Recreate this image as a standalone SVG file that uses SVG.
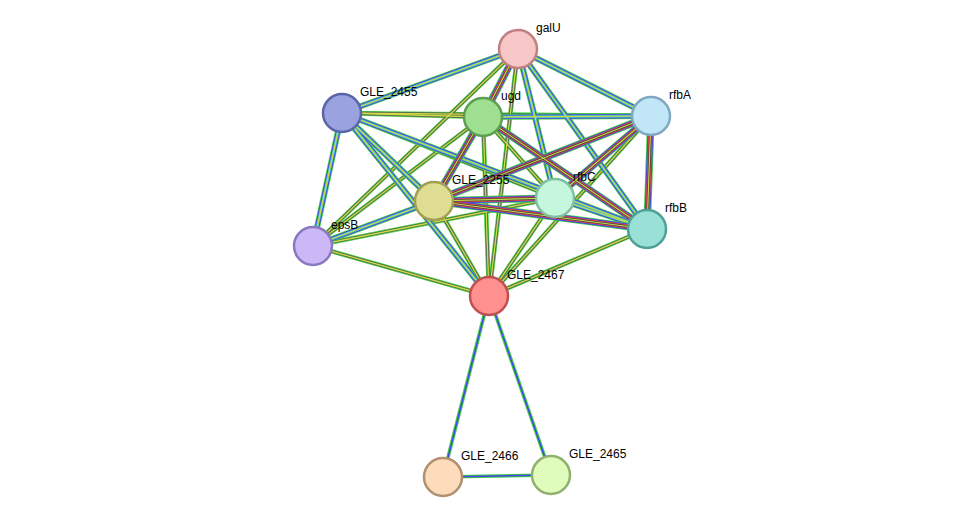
<svg xmlns="http://www.w3.org/2000/svg" xmlns:xlink="http://www.w3.org/1999/xlink" width="976" height="523" viewBox="0 0 976 523">
<style>
text{font-family:"Liberation Sans",Arial,sans-serif;font-size:12px;fill:#000}
circle{stroke-width:2.5}
use{fill:none}
</style>
<defs>
<g id="EA">
<line x1="518" y1="49" x2="483" y2="117"/>
<line x1="483" y1="117" x2="434" y2="201"/>
<line x1="434" y1="201" x2="647" y2="229"/>
<line x1="483" y1="117" x2="647" y2="229"/>
<line x1="651" y1="116" x2="434" y2="201"/>
<line x1="434" y1="201" x2="555" y2="198"/>
<line x1="651" y1="116" x2="647" y2="229"/>
<line x1="651" y1="116" x2="555" y2="198"/>
</g>
<g id="EB">
<line x1="518" y1="49" x2="651" y2="116"/>
<line x1="518" y1="49" x2="647" y2="229"/>
<line x1="518" y1="49" x2="342" y2="113"/>
<line x1="342" y1="113" x2="313" y2="246"/>
<line x1="342" y1="113" x2="434" y2="201"/>
<line x1="342" y1="113" x2="647" y2="229"/>
<line x1="313" y1="246" x2="434" y2="201"/>
<line x1="342" y1="113" x2="489" y2="296"/>
<line x1="483" y1="117" x2="651" y2="116"/>
<line x1="518" y1="49" x2="555" y2="198"/>
<line x1="555" y1="198" x2="647" y2="229"/>
</g>
<g id="EC">
<line x1="518" y1="49" x2="434" y2="201"/>
<line x1="518" y1="49" x2="313" y2="246"/>
<line x1="518" y1="49" x2="489" y2="296"/>
<line x1="342" y1="113" x2="483" y2="117"/>
<line x1="342" y1="113" x2="651" y2="116"/>
<line x1="342" y1="113" x2="555" y2="198"/>
<line x1="483" y1="117" x2="555" y2="198"/>
<line x1="483" y1="117" x2="313" y2="246"/>
<line x1="483" y1="117" x2="489" y2="296"/>
<line x1="651" y1="116" x2="489" y2="296"/>
<line x1="434" y1="201" x2="489" y2="296"/>
<line x1="555" y1="198" x2="313" y2="246"/>
<line x1="555" y1="198" x2="489" y2="296"/>
<line x1="647" y1="229" x2="489" y2="296"/>
<line x1="313" y1="246" x2="489" y2="296"/>
</g>
<g id="ED">
<line x1="489" y1="296" x2="443" y2="477"/>
<line x1="489" y1="296" x2="551" y2="475"/>
<line x1="443" y1="477" x2="551" y2="475"/>
</g>
</defs>
<g id="connectors">
<use xlink:href="#EC" stroke="#4c4" stroke-width="4.5"/>
<use xlink:href="#EC" stroke="#555" stroke-width="2.8"/>
<use xlink:href="#EC" stroke="#cd4" stroke-width="1.4"/>
<use xlink:href="#EB" stroke="#4c4" stroke-width="6"/>
<use xlink:href="#EB" stroke="#44e" stroke-width="4.4"/>
<use xlink:href="#EB" stroke="#4bc" stroke-width="2.8"/>
<use xlink:href="#EB" stroke="#cd4" stroke-width="1.2"/>
<use xlink:href="#EA" stroke="#4c4" stroke-width="7.5"/>
<use xlink:href="#EA" stroke="#44e" stroke-width="5.8"/>
<use xlink:href="#EA" stroke="#e44" stroke-width="4.2"/>
<use xlink:href="#EA" stroke="#444" stroke-width="2.6"/>
<use xlink:href="#EA" stroke="#cd4" stroke-width="1.1"/>
<use xlink:href="#ED" stroke="#4c4" stroke-width="3.6"/>
<use xlink:href="#ED" stroke="#44e" stroke-width="1.4"/>
</g>
<g id="galU"><circle cx="518" cy="49" r="19" fill="#f7c6c6" stroke="#c08080"/><text x="536" y="32">galU</text></g>
<g id="GLE_2455"><circle cx="342" cy="113" r="19" fill="#9aa3e0" stroke="#5a65a8"/><text x="360" y="96">GLE_2455</text></g>
<g id="ugd"><circle cx="483" cy="117" r="19" fill="#9ee08f" stroke="#5aa050"/><text x="501" y="100">ugd</text></g>
<g id="rfbA"><circle cx="651" cy="116" r="19" fill="#c0e6f7" stroke="#80a8c0"/><text x="669" y="99">rfbA</text></g>
<g id="GLE_2255"><circle cx="434" cy="201" r="19" fill="#dedd92" stroke="#a0a050"/><text x="452" y="184">GLE_2255</text></g>
<g id="rfbC"><circle cx="555" cy="198" r="19" fill="#c4f7dc" stroke="#80c0a0"/><text x="573" y="181">rfbC</text></g>
<g id="rfbB"><circle cx="647" cy="229" r="19" fill="#99e0d6" stroke="#50a098"/><text x="665" y="212">rfbB</text></g>
<g id="epsB"><circle cx="313" cy="246" r="19" fill="#cdb8f7" stroke="#8a78c0"/><text x="331" y="229">epsB</text></g>
<g id="GLE_2467"><circle cx="489" cy="296" r="19" fill="#ff9090" stroke="#c05050"/><text x="507" y="279">GLE_2467</text></g>
<g id="GLE_2466"><circle cx="443" cy="477" r="19" fill="#fddcbc" stroke="#b09070"/><text x="461" y="460">GLE_2466</text></g>
<g id="GLE_2465"><circle cx="551" cy="475" r="19" fill="#e0fcbc" stroke="#90b070"/><text x="569" y="458">GLE_2465</text></g>
</svg>
